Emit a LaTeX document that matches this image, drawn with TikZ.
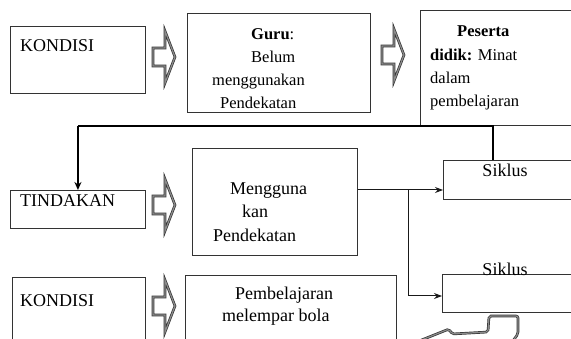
\documentclass[tikz,border=0pt]{standalone}
\usepackage{fontspec}
\setmainfont{Liberation Serif}
\usetikzlibrary{arrows.meta}
\newcommand\blkarr[2]{\draw[blk] (#1,#2-9) -- ++(12,0) -- ++(0,-17) -- ++(10,26) -- ++(-10,26) -- ++(0,-17) -- ++(-12,0) -- cycle;}
\begin{document}
\begin{tikzpicture}[x=1pt,y=-1pt,
  boxx/.style={draw=black!80, line width=0.9pt, anchor=north west, inner sep=0pt},
  txt/.style={anchor=base west, inner sep=0pt, text=black, font=\fontsize{18}{20}\selectfont},
  txs/.style={txt, font=\fontsize{16.5}{20}\selectfont},
  txc/.style={txt, anchor=base},
  blk/.style={draw=black!80, line width=0.7pt, double=black!45, double distance=1.2pt, line join=miter},
  thk/.style={draw=black, line width=2.4pt},
  conn/.style={draw=black!90, line width=1pt, -{Stealth[length=8pt,width=6pt]}}]
\useasboundingbox (0,0) rectangle (571,339);
\clip (0,0) rectangle (571,339);
% boxes
\node[boxx, minimum width=135pt, minimum height=67pt] (k1) at (10,26) {};
\node[boxx, minimum width=183pt, minimum height=99pt] (guru) at (187,13) {};
\node[boxx, minimum width=200pt, minimum height=115pt] (pes) at (420,10) {};
\node[boxx, minimum width=135pt, minimum height=38pt] (tind) at (10,190) {};
\node[boxx, minimum width=165pt, minimum height=107pt] (meng) at (192,148) {};
\node[boxx, minimum width=160pt, minimum height=39pt] (s1) at (443,160) {};
\node[boxx, minimum width=160pt, minimum height=38pt] (s2) at (442,274) {};
\node[boxx, minimum width=133pt, minimum height=80pt] (k2) at (12,277) {};
\node[boxx, minimum width=211pt, minimum height=80pt] (pemb) at (185,275) {};
% texts
\node[txt] (tk1) at (20,52) {KONDISI};
\node[txs] (tg1) at (251,40) {\textbf{Guru}:};
\node[txs] (tg2) at (251,63) {Belum};
\node[txs] (tg3) at (212,86) {menggunakan};
\node[txs] (tg4) at (220,109) {Pendekatan};
\node[txs] (tp1) at (457,37) {\textbf{Peserta}};
\node[txs] (tp2) at (430,61) {\textbf{didik:} Minat};
\node[txs] (tp3) at (430,84) {dalam};
\node[txs] (tp4) at (430,107) {pembelajaran};
\node[txt] (tt1) at (20,207) {TINDAKAN};
\node[txt] (tm1) at (230,195) {Mengguna};
\node[txt] (tm2) at (242,218) {kan};
\node[txt] (tm3) at (213,242) {Pendekatan};
\node[txc] (ts1) at (505,177) {Siklus};
\node[txc] (ts2) at (505,276) {Siklus};
\node[txt] (tk2) at (20,307) {KONDISI};
\node[txt] (tb1) at (235,300) {Pembelajaran};
\node[txt] (tb2) at (222,322) {melempar bola};
% block arrows
\blkarr{153}{57}
\blkarr{382}{55}
\blkarr{153}{205}
\blkarr{153}{306}
\draw[blk, rounded corners=2pt] (419,341) -- (449,329) -- (452,334) -- (488,332) -- (489,316) -- (518,316) -- (518,334) -- (512,342);
% thick connector
\coordinate (jl) at (tind.north |- 0,126);
\coordinate (jr) at (493,126);
\draw[thk] (jl) -- (jr) -- (jr |- s1.north);
\draw[thk, line width=2pt, -{Stealth[length=8pt,width=7pt]}] (jl) -- (tind.north);
% thin connectors
\coordinate (mo) at (meng.east |- 0,190);
\coordinate (br) at (408,190);
\draw[conn] (mo) -- (mo -| s1.west);
\draw[conn] (br) |- (s2.west |- 0,296);
\end{tikzpicture}
\end{document}
